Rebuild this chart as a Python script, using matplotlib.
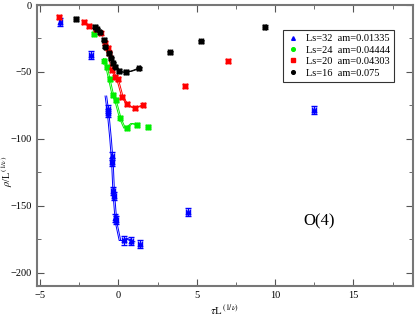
import matplotlib
matplotlib.use("Agg")
import matplotlib.pyplot as plt
import numpy as np

plt.rcParams['font.family'] = ['Liberation Serif', 'DejaVu Serif']
plt.rcParams['mathtext.fontset'] = 'stix'

# Ls=32 am=0.01335
x32 = [-3.7, -1.73, -0.66, -0.66, -0.38, -0.4, -0.36, -0.3, -0.19, -0.13, 0.34, 0.83, 1.4, 4.42, 12.5]
y32 = [-12.7, -37, -77.6, -80.8, -112.7, -117, -139, -142.5, -159, -161, -176, -176.6, -178.6, -155, -78.6]
# Ls=24 am=0.04444
x24 = [-1.56, -0.89, -0.72, -0.55, -0.36, -0.17, 0.13, 0.55, 1.19, 1.88]
y24 = [-21.9, -41.8, -46.5, -55.5, -67, -71, -84.6, -92, -89.6, -91]
# Ls=20 am=0.04303
x20 = [-3.8, -2.2, -1.88, -1.46, -1.14, -0.87, -0.68, -0.57, -0.4, -0.19, -0.04, 0.25, 0.55, 1.04, 1.6, 4.27, 7.0]
y20 = [-9, -12.4, -15.7, -18, -21, -28.6, -32.3, -36, -48.5, -53.5, -55, -68.4, -74, -77, -74.6, -60.7, -41.8]
# Ls=16 am=0.075
x16 = [-2.7, -1.5, -1.35, -1.2, -0.93, -0.83, -0.62, -0.46, -0.34, -0.19, 0.06, 0.49, 1.29, 3.3, 5.27, 9.33]
y16 = [-10.4, -16.2, -18, -20.4, -26, -31, -36, -39.8, -43.5, -46, -49.3, -50, -47.3, -35.3, -27, -16.4]

# fitted curves
cx32 = [-0.8, -0.66, -0.5, -0.38, -0.3, -0.2, -0.1, 0.1, 0.3, 0.55, 0.75, 1.0]
cy32 = [-68, -80, -100, -118, -140, -155, -165, -176, -176, -174.5, -176, -177]
cx24 = [-0.9, -0.72, -0.55, -0.36, -0.17, 0.13, 0.4, 0.6, 0.85, 1.2]
cy24 = [-40, -48, -57, -67, -72, -85, -92, -91, -88.5, -89.5]
cx20 = [-0.55, -0.4, -0.19, -0.04, 0.25, 0.55, 0.8, 1.04, 1.3, 1.6]
cy20 = [-40, -48.5, -53.5, -56, -68.4, -74, -76, -77, -76, -74.6]
cx16 = [-0.1, 0.06, 0.3, 0.49, 0.8, 1.05, 1.29]
cy16 = [-47, -49.3, -50.2, -50, -49.5, -48.5, -47.3]

series = [
    (x32, y32, cx32, cy32, 'blue', '^', 'Ls=32  am=0.01335', 3.0),
    (x24, y24, cx24, cy24, '#00ee00', 'o', 'Ls=24  am=0.04444', 1.5),
    (x20, y20, cx20, cy20, 'red', 's', 'Ls=20  am=0.04303', 1.5),
    (x16, y16, cx16, cy16, 'black', 'o', 'Ls=16  am=0.075', 1.2),
]

fig = plt.figure(figsize=(4.15, 3.16), dpi=100)
ax = fig.add_axes([0.089, 0.095, 0.906, 0.889])

for xs, ys, cx, cy, col, mk, lab, ye in series:
    cx = np.array(cx)
    ax.plot(cx - 0.05, cy, color=col, lw=0.7)
    ax.plot(cx + 0.05, cy, color=col, lw=0.7)
    ax.errorbar(xs, ys, xerr=0.12, yerr=ye, fmt='none', ecolor=col, elinewidth=0.8, capsize=2.5)
    ax.plot(xs, ys, linestyle='none', marker=mk, color=col, markersize=3.3, label=lab)

ax.set_xlim(-5.2, 18.8)
ax.set_ylim(-210, 0)
ax.set_xticks([-5, 0, 5, 10, 15])
ax.set_xticks(np.arange(-2.5, 18.8, 5), minor=True)
ax.set_yticks([-200, -150, -100, -50, 0])
ax.set_yticks(np.arange(-175, 0, 50), minor=True)
ax.tick_params(which='both', direction='in', top=True, right=True, labelsize=7.5, color='#555555')
ax.tick_params(which='major', length=5)
ax.tick_params(which='minor', length=3)
for s in ax.spines.values():
    s.set_color('#777777')
    s.set_linewidth(1.5)

ax.set_xlabel(r'$\tau$L$^{\,(1/\nu)}$', fontsize=8, labelpad=2)
ax.set_ylabel(r'$\rho$/L$^{\,(1/\nu)}$', fontsize=7.5)
ax.yaxis.set_label_coords(-0.058, 0.41)
ax.text(12.8, -162, 'O(4)', fontsize=12, ha='center', va='center')

leg = ax.legend(loc='upper left', bbox_to_anchor=(0.64, 0.93), fontsize=7.5, frameon=True,
                fancybox=False, handlelength=1.2, markerscale=0.8, borderpad=0.4,
                labelspacing=0.2, handletextpad=0.6)
leg.get_frame().set_edgecolor('black')
leg.get_frame().set_linewidth(0.8)

fig.savefig('out.png', dpi=100)
